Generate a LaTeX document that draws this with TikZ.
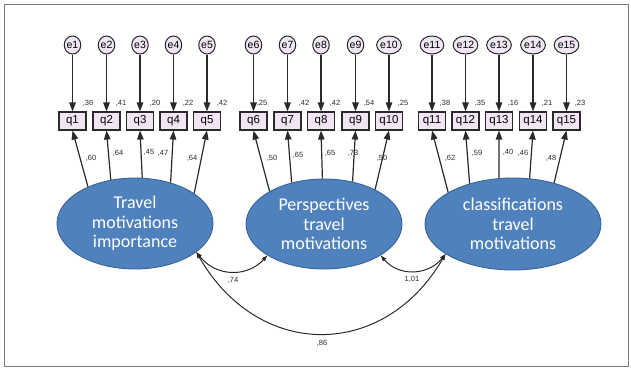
\documentclass[tikz,border=0pt]{standalone}
\usepackage{fontspec}
\setmainfont{Liberation Sans}
\newfontfamily\calib{Carlito}
\usetikzlibrary{arrows.meta,shapes.geometric}
\definecolor{latfill}{HTML}{4F81BD}
\definecolor{latline}{HTML}{3A6494}
\definecolor{obsfill}{HTML}{F1E4F3}
\definecolor{errfill}{HTML}{F1E6F4}
\definecolor{ink}{HTML}{2A2A2A}
\definecolor{framec}{HTML}{7A7A7A}
\begin{document}
\begin{tikzpicture}[x=1pt,y=1pt,
  errnode/.style={ellipse,draw=ink,line width=1pt,fill=errfill,minimum width=16pt,minimum height=18pt,inner sep=0pt,font=\fontsize{10.5}{10.5}\selectfont},
  obsnode/.style={rectangle,draw=ink,line width=1.1pt,fill=obsfill,minimum width=27pt,minimum height=18pt,inner sep=0pt,font=\fontsize{11.5}{11.5}\selectfont},
  latnode/.style={ellipse,draw=latline,line width=0.9pt,fill=latfill,inner sep=0pt,text=white,align=center,font=\calib\fontsize{18}{19.5}\selectfont},
  arr/.style={draw=ink,line width=1.2pt,-{Triangle[length=9pt,width=6.5pt]}},
  cov/.style={draw=ink,line width=1pt,{Triangle[length=6pt,width=4pt]}-{Triangle[length=6pt,width=4pt]}},
  num/.style={text=ink,inner sep=0pt,font=\fontsize{7.5}{7.5}\selectfont},
  framebox/.style={draw=framec,line width=0.9pt}]
\useasboundingbox (0,0) rectangle (631,-368);
\draw[framebox] (4,-4.5) rectangle (628,-366);

% observed and error nodes
\foreach \i/\x in {1/72.5,2/106.5,3/140,4/173.5,5/207,6/253.5,7/287.5,8/321,9/355.5,10/389,11/432,12/465.5,13/499,14/533,15/566.5}{
  \node[errnode] (e\i) at (\x,-45) {e\i};
  \node[obsnode] (q\i) at (\x,-121) {q\i};
  \draw[arr] (e\i) -- (q\i);
}

% latent variables
\node[latnode,minimum width=156pt,minimum height=91pt] (trav) at (135,-223.5) {Travel\\motivations\\importance};
\node[latnode,minimum width=156pt,minimum height=90pt] (pers) at (324,-224) {Perspectives\\travel\\motivations};
\node[latnode,minimum width=176pt,minimum height=92pt] (clas) at (513,-224) {classifications\\travel\\motivations};

% loadings
\draw[arr] (trav.142) -- (q1.south);
\draw[arr] (trav.119) -- (q2.south);
\draw[arr] (trav.81) -- (q3.south);
\draw[arr] (trav.49) -- (q4.south);
\draw[arr] (trav.27) -- (q5.south);
\draw[arr] (pers.149) -- (q6.south);
\draw[arr] (pers.128) -- (q7.south);
\draw[arr] (pers.92) -- (q8.south);
\draw[arr] (pers.56) -- (q9.south);
\draw[arr] (pers.34) -- (q10.south);
\draw[arr] (clas.154) -- (q11.south);
\draw[arr] (clas.137) -- (q12.south);
\draw[arr] (clas.107) -- (q13.south);
\draw[arr] (clas.70) -- (q14.south);
\draw[arr] (clas.45) -- (q15.south);

% covariances
\draw[cov] (trav.-25) .. controls +(20,-25) and +(-20,-22) .. (pers.-151);
\draw[cov] (pers.-29) .. controls +(18,-21) and +(-18,-22) .. (clas.-156);
\draw[cov] (trav.-25) .. controls +(62,-108) and +(-62,-106) .. (clas.-156);

% squared multiple correlations
\foreach \x/\t [count=\k] in {88/{,36},121/{,41},155/{,20},188/{,22},222/{,42},262/{,25},304/{,42},335/{,42},369/{,54},403/{,25},445/{,38},480/{,35},513/{,16},547/{,21},580/{,23}}{
  \node[num] (r\k) at (\x,-103) {\t};
}
% loading labels
\foreach \x/\y/\t [count=\k] in {91/158/{,60},118/153/{,64},149/152/{,45},163/153/{,47},192/158/{,64},272/158/{,50},298/155/{,65},330/153/{,65},353/153/{,73},382/158/{,50},450/158/{,62},477/153/{,59},508/152/{,40},523/153/{,46},551/158/{,48}}{
  \node[num] (l\k) at (\x,-\y) {\t};
}
\node[num] (c1) at (233,-280) {,74};
\node[num] (c2) at (412,-279) {1,01};
\node[num] (c3) at (322,-343) {,86};
\end{tikzpicture}
\end{document}
